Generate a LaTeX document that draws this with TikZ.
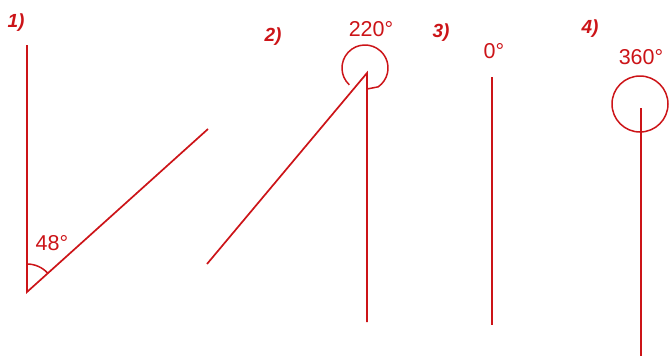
\documentclass[tikz,border=0pt]{standalone}
\usepackage{fontspec}
\setmainfont{Liberation Sans}
\usetikzlibrary{positioning, calc}

\begin{document}
\begin{tikzpicture}[
			x=1pt, y=-1pt,
			ray/.style={draw=penred, line width=1.7pt},
			arcline/.style={draw=penred, line width=1.5pt},
			deg/.style={text=penred, font=\fontsize{21.5}{24}\selectfont, inner sep=0pt},
			num/.style={text=penred, font=\fontsize{19}{21}\selectfont\bfseries\itshape, inner sep=0pt}
			]
			\definecolor{penred}{RGB}{204,20,24}
			\useasboundingbox (0,0) rectangle (669,356);
			% 1)
			\node[num] (n1) at (16,23) {1)};
			\coordinate (top1) at (27,45);
			\coordinate (v1) at (27,292);
			\coordinate (end1) at (208,129);
			\draw[ray] (top1) -- (v1) -- (end1);
			\draw[arcline] ($(v1)+(42:28pt)$) arc[start angle=42, end angle=90, radius=28pt];
			\node[deg] (a1) at (52,243) {48°};
			% 2)
			\node[num] (n2) at (273,37) {2)};
			\coordinate (v2) at (367,73);
			\coordinate (c2) at (365,68);
			\coordinate (end2) at (207,264);
			\coordinate (bot2) at (367,322);
			\draw[ray] (end2) -- (v2) -- (bot2);
			\draw[arcline] ($(c2)+(227:23pt)$) arc[start angle=227, end angle=-55, radius=23pt] -- ($(v2)+(0,16)$);
			\node[deg] (a2) at (371,29) {220°};
			% 3)
			\node[num] (n3) at (441,33) {3)};
			\coordinate (top3) at (492,77);
			\coordinate (bot3) at (492,325);
			\draw[ray] (top3) -- (bot3);
			\node[deg] (a3) at (494,51) {0°};
			% 4)
			\node[num] (n4) at (590,29) {4)};
			\coordinate (c4) at (640,104);
			\coordinate (top4) at (641,108);
			\coordinate (bot4) at (641,356);
			\draw[arcline] (c4) circle[radius=28pt];
			\draw[ray] (top4) -- (bot4);
			\node[deg] (a4) at (641,57) {360°};
		\end{tikzpicture}
\end{document}
